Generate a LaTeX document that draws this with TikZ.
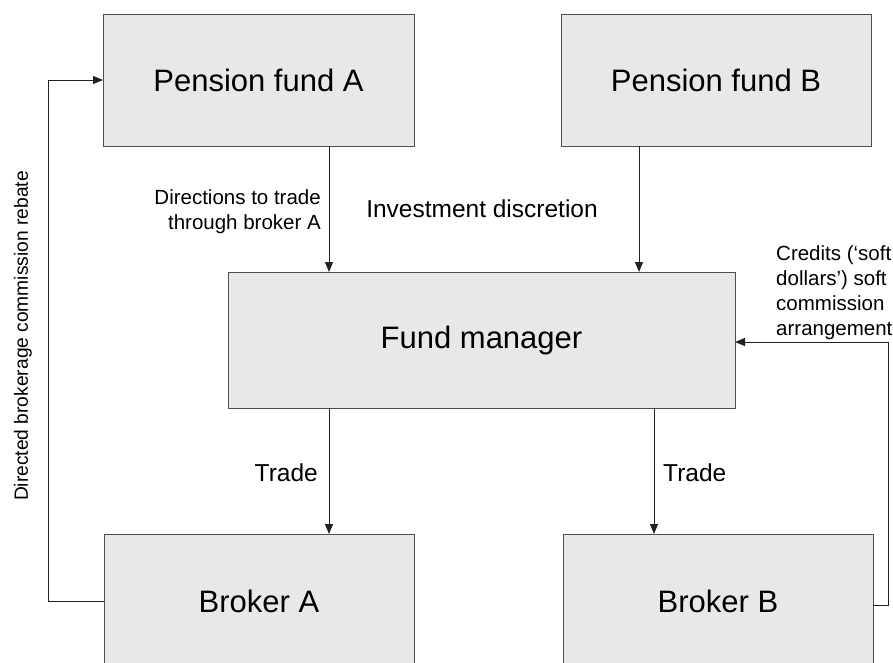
\documentclass[tikz,border=0pt]{standalone}
\usepackage{fontspec}
\setmainfont{Liberation Sans}
\usetikzlibrary{arrows.meta}
\definecolor{boxfill}{HTML}{E8E8E8}
\definecolor{linecol}{HTML}{222222}
\tikzset{
  box/.style={draw=linecol!80, fill=boxfill, line width=1pt, inner sep=0pt, outer sep=0pt,
    font=\fontsize{31}{37}\selectfont},
  conn/.style={draw=linecol, line width=1pt},
  arr/.style={conn, -{Triangle[length=10pt,width=8pt]}},
  biglabel/.style={inner sep=0pt, font=\fontsize{24.5}{29}\selectfont},
  smalllabel/.style={inner sep=0pt, font=\fontsize{20.5}{25}\selectfont}
}
\begin{document}
\begin{tikzpicture}[x=1pt,y=-1pt]
\clip (0,0) rectangle (893,662);
\fill[white] (0,0) rectangle (893,662);
% boxes
\node[box, minimum width=311pt, minimum height=132pt] (pfa) at (258.5,80) {Pension fund A};
\node[box, minimum width=310pt, minimum height=132pt] (pfb) at (716,80) {Pension fund B};
\node[box, minimum width=507pt, minimum height=136pt] (fm) at (481.5,340) {Fund manager};
\node[box, minimum width=310pt, minimum height=134pt] (ba) at (259,601) {Broker A};
\node[box, minimum width=310pt, minimum height=134pt] (bb) at (718,601) {Broker B};
% helper coordinates
\coordinate (xa) at (329,0);
\coordinate (xb) at (639,0);
\coordinate (xc) at (654,0);
\coordinate (lft) at (48,0);
\coordinate (rgt) at (888,0);
% connectors
\draw[arr] (pfa.south -| xa) -- (fm.north -| xa);
\draw[arr] (pfb.south -| xb) -- (fm.north -| xb);
\draw[arr] (fm.south -| xa) -- (ba.north -| xa);
\draw[arr] (fm.south -| xc) -- (bb.north -| xc);
\draw[arr] (ba.west) -- (ba.west -| lft) -- (pfa.west -| lft) -- (pfa.west);
\draw[arr] ([yshift=-4pt]bb.east) -- ([yshift=-4pt]bb.east -| rgt) -- ([yshift=-2pt]fm.east -| rgt) -- ([yshift=-2pt]fm.east);
% labels
\node[smalllabel, anchor=north east, align=right] (ldir) at (321,189) {Directions to trade\\through broker A};
\node[biglabel, anchor=base] (linv) at (482,217) {Investment discretion};
\node[biglabel, anchor=base east] (ltra) at (318,481) {Trade};
\node[biglabel, anchor=base west] (ltrb) at (663,481) {Trade};
\node[smalllabel, anchor=north west, align=left] (lcred) at (776,245) {Credits (‘soft\\dollars’) soft\\commission\\arrangement};
\node[inner sep=0pt, font=\fontsize{19.2}{23}\selectfont, rotate=90] (lreb) at (23,336) {Directed brokerage commission rebate};
\end{tikzpicture}
\end{document}
